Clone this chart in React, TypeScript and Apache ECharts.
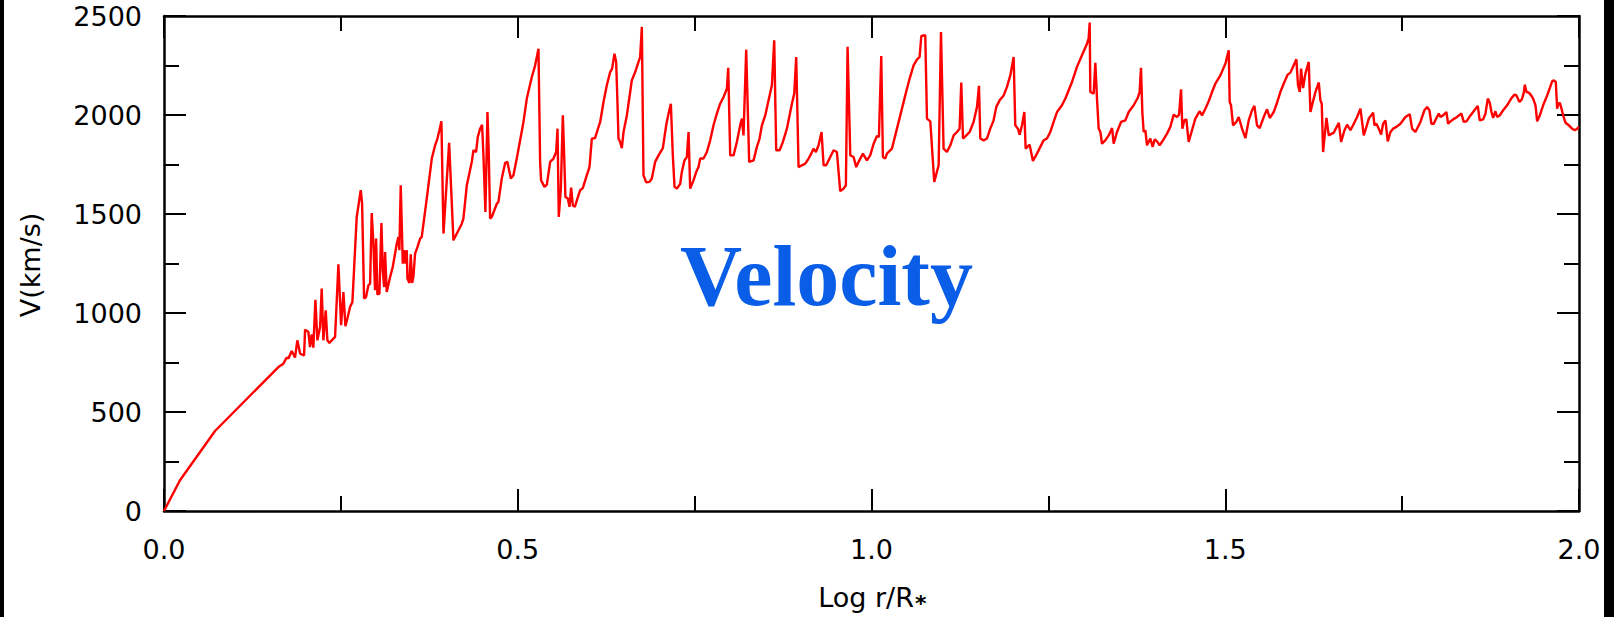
import React, { useEffect, useRef } from "react";
import * as echarts from "echarts";

// Log r/R* values (x) and velocity in km/s (y)
const logR = [
  0, 0.0226, 0.0721, 0.1617, 0.1687, 0.1734, 0.1758, 0.1805, 0.1852, 0.1885,
  0.1923, 0.198, 0.1994, 0.2041, 0.2064, 0.2088, 0.2111, 0.214, 0.2168, 0.2206,
  0.2229, 0.2253, 0.2286, 0.2309, 0.2338, 0.2371, 0.2418, 0.2465, 0.2503, 0.2536,
  0.2564, 0.2592, 0.263, 0.2663, 0.2724, 0.2781, 0.28, 0.2828, 0.2856, 0.2889,
  0.2913, 0.2936, 0.296, 0.2983, 0.2998, 0.3016, 0.3045, 0.3073, 0.3092, 0.3111,
  0.3125, 0.3148, 0.3196, 0.3233, 0.329, 0.3313, 0.3327, 0.3346, 0.3375, 0.3393,
  0.3412, 0.3431, 0.3441, 0.3469, 0.3488, 0.3507, 0.3525, 0.3549, 0.3582, 0.362,
  0.3643, 0.3714, 0.3785, 0.3832, 0.3865, 0.3893, 0.3921, 0.395, 0.403, 0.4091,
  0.4209, 0.4232, 0.428, 0.435, 0.4374, 0.4411, 0.4435, 0.4468, 0.4496, 0.4515,
  0.4543, 0.4572, 0.4591, 0.4609, 0.4633, 0.4704, 0.4727, 0.4774, 0.4822, 0.4854,
  0.4902, 0.4939, 0.4986, 0.5081, 0.5128, 0.5199, 0.5246, 0.5293, 0.5316, 0.533,
  0.5378, 0.5411, 0.5458, 0.5505, 0.5543, 0.5562, 0.558, 0.5609, 0.5637, 0.5656,
  0.5674, 0.5708, 0.5731, 0.5755, 0.5778, 0.5807, 0.5858, 0.5882, 0.592, 0.5976,
  0.6014, 0.6047, 0.6094, 0.6127, 0.6165, 0.6212, 0.6259, 0.6306, 0.6334, 0.6367,
  0.6391, 0.641, 0.6424, 0.6447, 0.6471, 0.6495, 0.6542, 0.6589, 0.6612, 0.666,
  0.6707, 0.673, 0.6754, 0.6777, 0.6815, 0.6862, 0.6895, 0.6942, 0.699, 0.7051,
  0.7098, 0.7131, 0.7164, 0.7192, 0.7216, 0.7249, 0.7296, 0.7319, 0.7357, 0.739,
  0.7414, 0.7437, 0.7484, 0.7522, 0.7555, 0.7579, 0.7626, 0.7673, 0.772, 0.7767,
  0.7814, 0.7861, 0.7909, 0.7956, 0.7975, 0.8003, 0.805, 0.8097, 0.8144, 0.8168,
  0.8191, 0.8229, 0.8271, 0.8333, 0.838, 0.8418, 0.8451, 0.8498, 0.8545, 0.8592,
  0.8625, 0.8653, 0.8701, 0.8748, 0.8804, 0.8875, 0.8908, 0.8936, 0.8969, 0.9016,
  0.9064, 0.9111, 0.9148, 0.9181, 0.9214, 0.9252, 0.9294, 0.9323, 0.936, 0.9417,
  0.9464, 0.9511, 0.9558, 0.9605, 0.9638, 0.9662, 0.97, 0.9747, 0.9784, 0.9817,
  0.9879, 0.9935, 0.9982, 1.003, 1.0077, 1.0105, 1.0138, 1.0161, 1.0194, 1.0218,
  1.0289, 1.0336, 1.0407, 1.0477, 1.0539, 1.0595, 1.0642, 1.068, 1.0704, 1.076,
  1.0784, 1.0831, 1.0887, 1.0949, 1.0982, 1.1019, 1.1066, 1.1114, 1.1161, 1.1208,
  1.1245, 1.1269, 1.1293, 1.134, 1.1387, 1.1443, 1.1491, 1.1519, 1.1538, 1.1585,
  1.1632, 1.1679, 1.1726, 1.1764, 1.1811, 1.1868, 1.1915, 1.1962, 1.2009, 1.2032,
  1.207, 1.2094, 1.2127, 1.216, 1.2179, 1.2235, 1.2282, 1.2339, 1.2386, 1.2433,
  1.248, 1.2527, 1.2574, 1.2622, 1.2692, 1.274, 1.2787, 1.2834, 1.2904, 1.2975,
  1.3037, 1.3069, 1.3084, 1.3093, 1.314, 1.3164, 1.3187, 1.3211, 1.3235, 1.3258,
  1.3305, 1.3352, 1.34, 1.3423, 1.347, 1.3527, 1.3588, 1.3635, 1.3706, 1.3762,
  1.379, 1.3809, 1.3828, 1.3847, 1.3871, 1.3894, 1.3941, 1.3974, 1.4003, 1.4036,
  1.4073, 1.412, 1.4177, 1.4224, 1.4271, 1.4318, 1.4347, 1.4375, 1.4394, 1.4422,
  1.445, 1.4483, 1.453, 1.4577, 1.4639, 1.4672, 1.4719, 1.4766, 1.4813, 1.486,
  1.4931, 1.5002, 1.5049, 1.5063, 1.5082, 1.511, 1.5157, 1.519, 1.5237, 1.5285,
  1.5332, 1.5379, 1.5412, 1.5449, 1.5487, 1.5544, 1.5591, 1.5629, 1.5685, 1.5732,
  1.5779, 1.5836, 1.5883, 1.5921, 1.5977, 1.6005, 1.6029, 1.6053, 1.6072, 1.61,
  1.6133, 1.618, 1.6204, 1.6241, 1.6274, 1.6322, 1.6345, 1.6364, 1.6383, 1.643,
  1.6463, 1.6534, 1.6605, 1.6638, 1.6685, 1.6723, 1.677, 1.6817, 1.6864, 1.6911,
  1.6958, 1.6981, 1.7029, 1.7062, 1.709, 1.7109, 1.7137, 1.717, 1.7203, 1.7231,
  1.7264, 1.7297, 1.7335, 1.7372, 1.742, 1.7476, 1.7547, 1.7608, 1.7641, 1.7688,
  1.7759, 1.7815, 1.7853, 1.7886, 1.7914, 1.7947, 1.7985, 1.8018, 1.8041, 1.8079,
  1.8126, 1.815, 1.8173, 1.8221, 1.8277, 1.8301, 1.8338, 1.8371, 1.8409, 1.8466,
  1.8522, 1.8569, 1.8597, 1.8645, 1.8678, 1.8711, 1.8739, 1.8763, 1.8786, 1.8819,
  1.8843, 1.888, 1.8928, 1.8984, 1.9041, 1.9088, 1.9116, 1.9159, 1.9192, 1.922,
  1.9234, 1.9258, 1.9291, 1.9324, 1.9352, 1.9385, 1.9409, 1.9446, 1.9493, 1.955,
  1.9587, 1.962, 1.9644, 1.9672, 1.9691, 1.971, 1.9729, 1.9753, 1.9776, 1.9809,
  1.9856, 1.9903, 1.9941, 1.9974, 1.9998,
];

const velocity = [
  0, 155, 404, 727, 744, 775, 770, 808, 775, 862,
  795, 786, 916, 904, 828, 892, 825, 1067, 862, 929,
  1123, 862, 1014, 862, 849, 862, 879, 1246, 938, 1106,
  933, 972, 1030, 1056, 1485, 1620, 1552, 1073, 1081, 1140,
  1148, 1505, 1350, 1115, 1376, 1094, 1098, 1455, 1216, 1131,
  1308, 1106, 1182, 1232, 1350, 1384, 1317, 1645, 1249, 1317,
  1249, 1317, 1174, 1152, 1296, 1152, 1182, 1300, 1333, 1376,
  1384, 1578, 1780, 1847, 1881, 1923, 1968, 1401, 1859, 1367,
  1451, 1477, 1645, 1763, 1822, 1813, 1889, 1931, 1951, 1796,
  1510, 2015, 1796, 1477, 1485, 1552, 1561, 1679, 1758, 1763,
  1679, 1696, 1780, 1965, 2083, 2192, 2251, 2335, 1763, 1670,
  1637, 1648, 1763, 1780, 1813, 1931, 1485, 1628, 1998, 1796,
  1586, 1578, 1536, 1633, 1544, 1536, 1594, 1620, 1631, 1696,
  1737, 1881, 1884, 1923, 1965, 2066, 2150, 2217, 2234, 2310,
  2268, 2057, 1881, 1864, 1833, 1914, 1998, 2116, 2175, 2217,
  2268, 2293, 2445, 1696, 1660, 1662, 1679, 1763, 1796, 1833,
  1948, 2007, 2057, 1796, 1637, 1628, 1653, 1712, 1771, 1788,
  1914, 1628, 1670, 1712, 1737, 1780, 1780, 1813, 1872, 1948,
  2007, 2057, 2091, 2133, 2238, 1796, 1796, 1864, 1948, 1982,
  1897, 2330, 1763, 1771, 1839, 1881, 1948, 1998, 2074, 2150,
  2377, 1822, 1822, 1864, 1931, 2057, 2108, 2293, 1737, 1746,
  1754, 1780, 1805, 1830, 1813, 1847, 1914, 1746, 1746, 1788,
  1822, 1813, 1616, 1628, 1645, 2344, 1796, 1788, 1737, 1763,
  1805, 1771, 1796, 1855, 1894, 1889, 2298, 1788, 1780, 1805,
  1830, 1897, 1998, 2099, 2184, 2251, 2280, 2293, 2399, 2403,
  1982, 1968, 1662, 1746, 2419, 1830, 1813, 1847, 1897, 1914,
  1931, 2164, 1881, 1897, 1914, 1965, 2041, 2147, 1881, 1872,
  1881, 1931, 1973, 2041, 2074, 2099, 2142, 2200, 2293, 1948,
  1931, 1901, 1948, 2015, 1830, 1850, 1768, 1805, 1839, 1872,
  1881, 1914, 1965, 2015, 2049, 2083, 2125, 2167, 2243, 2302,
  2352, 2386, 2467, 2116, 2108, 2263, 2083, 1931, 1914, 1855,
  1872, 1897, 1934, 1855, 1914, 1965, 1973, 2015, 2049, 2086,
  2116, 2238, 2015, 1914, 1923, 1847, 1881, 1839, 1877, 1867,
  1847, 1872, 1906, 1940, 2002, 1990, 2002, 2130, 1931, 1973,
  1978, 1864, 1923, 1982, 2019, 1998, 2032, 2069, 2116, 2158,
  2200, 2259, 2327, 2066, 2049, 1948, 1965, 1990, 1931, 1884,
  1973, 2024, 2046, 1948, 1934, 1990, 2029, 1985, 2015, 2062,
  2116, 2167, 2204, 2214, 2259, 2281, 2150, 2116, 2234, 2136,
  2209, 2268, 2015, 2069, 2116, 2164, 2074, 2057, 1813, 1985,
  1897, 1911, 1960, 1864, 1923, 1951, 1923, 1956, 1990, 2032,
  1897, 1923, 1982, 1998, 2012, 1948, 1956, 1931, 1901, 1956,
  1973, 1867, 1914, 1931, 1940, 1956, 1990, 2004, 1931, 1914,
  1965, 2024, 2041, 2024, 1956, 1956, 1985, 2007, 1990, 1998,
  2015, 1956, 1965, 1978, 1990, 1998, 2007, 1965, 1968, 1998,
  2024, 2046, 1973, 1978, 2007, 2083, 2062, 2015, 1985, 2019,
  1990, 1998, 2024, 2049, 2083, 2103, 2099, 2066, 2079, 2113,
  2153, 2116, 2113, 2099, 2083, 2049, 1968, 1998, 2049, 2099,
  2136, 2170, 2175, 2167, 2032, 2057, 2062, 2032, 1998, 1961,
  1948, 1931, 1923, 1931, 1940,
];

const xTicks = [0, 0.5, 1.0, 1.5, 2.0];
const yTicks = [0, 500, 1000, 1500, 2000, 2500];
const xTitle = "Log r/R";
const xTitleSub = "*";
const yTitle = "V(km/s)";
const chartTitle = "Velocity";

const LABEL_FONT = "DejaVu Sans";

export default function App() {
  const ref = useRef<HTMLDivElement>(null);

  useEffect(() => {
    if (!ref.current) return;
    const chart = echarts.init(ref.current, null, { renderer: "svg" });

    const points = logR.map((x, i) => [x, velocity[i]]);

    const axisLine = { show: true, onZero: false, lineStyle: { color: "#000", width: 2.5 } };
    const axisTick = { show: true, inside: true, length: 22, lineStyle: { color: "#000", width: 2 } };
    const minorTick = { show: true, splitNumber: 2, length: 15, lineStyle: { color: "#000", width: 2 } };

    const xBase = {
      type: "value",
      min: xTicks[0],
      max: xTicks[xTicks.length - 1],
      interval: xTicks[1] - xTicks[0],
      axisLine,
      axisTick,
      minorTick,
      splitLine: { show: false },
      minorSplitLine: { show: false },
    };
    const yBase = {
      type: "value",
      min: yTicks[0],
      max: yTicks[yTicks.length - 1],
      interval: yTicks[1] - yTicks[0],
      axisLine,
      axisTick,
      minorTick,
      splitLine: { show: false },
      minorSplitLine: { show: false },
    };

    chart.setOption({
      animation: false,
      backgroundColor: "#ffffff",
      grid: { left: 164, right: 35, top: 16, bottom: 106, containLabel: false },
      xAxis: [
        {
          ...xBase,
          position: "bottom",
          axisLabel: {
            show: true,
            margin: 25,
            color: "#000",
            fontFamily: LABEL_FONT,
            fontSize: 27,
            showMinLabel: true,
            showMaxLabel: true,
            formatter: (v: number) => v.toFixed(1),
          },
        },
        { ...xBase, position: "top", axisLabel: { show: false } },
      ],
      yAxis: [
        {
          ...yBase,
          position: "left",
          axisLabel: {
            show: true,
            margin: 22,
            color: "#000",
            fontFamily: LABEL_FONT,
            fontSize: 27,
            padding: [11, 0, 0, 0],
            showMinLabel: true,
            showMaxLabel: true,
            formatter: (v: number) => String(v),
          },
        },
        { ...yBase, position: "right", axisLabel: { show: false } },
      ],
      series: [
        {
          type: "line",
          xAxisIndex: 0,
          yAxisIndex: 0,
          data: points,
          showSymbol: false,
          symbol: "none",
          lineStyle: { color: "#ff0000", width: 2.4 },
          silent: true,
          clip: true,
        },
      ],
      graphic: [
        { type: "rect", silent: true, shape: { x: 0, y: 0, width: 4, height: 617 }, style: { fill: "#000" } },
        { type: "rect", silent: true, shape: { x: 1604, y: 0, width: 10, height: 617 }, style: { fill: "#000" } },
        {
          type: "text",
          silent: true,
          x: 680,
          y: 276,
          style: {
            text: chartTitle,
            font: 'bold 86px "Liberation Serif"',
            fill: "#0a5de6",
            textAlign: "left",
            textVerticalAlign: "middle",
          },
        },
        {
          type: "text",
          silent: true,
          x: 30.5,
          y: 265,
          rotation: Math.PI / 2,
          style: {
            text: yTitle,
            font: `27px "${LABEL_FONT}"`,
            fill: "#000",
            textAlign: "center",
            textVerticalAlign: "middle",
          },
        },
        {
          type: "text",
          silent: true,
          x: 866,
          y: 597,
          style: {
            text: xTitle,
            font: `27px "${LABEL_FONT}"`,
            fill: "#000",
            textAlign: "center",
            textVerticalAlign: "middle",
          },
        },
        {
          type: "text",
          silent: true,
          x: 915,
          y: 603.5,
          style: {
            text: xTitleSub,
            font: `bold 22px "${LABEL_FONT}"`,
            fill: "#000",
            textAlign: "left",
            textVerticalAlign: "middle",
          },
        },
      ],
    });

    return () => {
      chart.dispose();
    };
  }, []);

  return (
    <div
      ref={ref}
      style={{ position: "fixed", left: 0, top: 0, width: 1614, height: 617, background: "#fff" }}
    />
  );
}
